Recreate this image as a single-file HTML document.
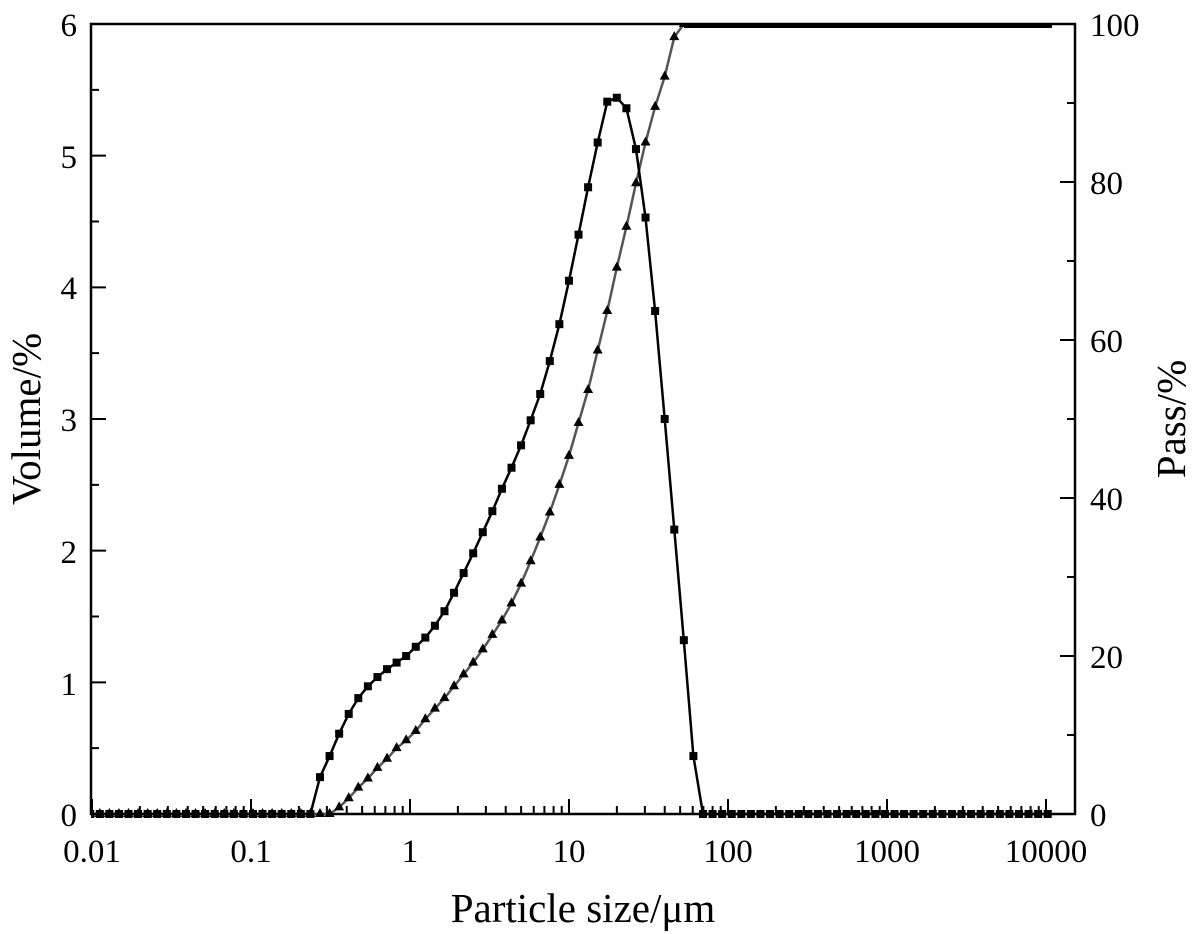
<!DOCTYPE html>
<html><head><meta charset="utf-8"><style>
body{margin:0;background:#fff}
svg{display:block;font-family:"Liberation Serif",serif}
</style></head><body>
<svg id="s" width="1200" height="934" viewBox="0 0 1200 934" xmlns="http://www.w3.org/2000/svg">
<defs><clipPath id="c"><rect x="91" y="25" width="984" height="800"/></clipPath></defs>
<g font-size="33" fill="#000">
<text x="77" y="36" text-anchor="end">6</text>
<text x="77" y="168" text-anchor="end">5</text>
<text x="77" y="299" text-anchor="end">4</text>
<text x="77" y="431" text-anchor="end">3</text>
<text x="77" y="563" text-anchor="end">2</text>
<text x="77" y="695" text-anchor="end">1</text>
<text x="77" y="826" text-anchor="end">0</text>
<text x="1090" y="36">100</text>
<text x="1090" y="194">80</text>
<text x="1090" y="352">60</text>
<text x="1090" y="510">40</text>
<text x="1090" y="668">20</text>
<text x="1090" y="826">0</text>
<text x="92" y="862" text-anchor="middle">0.01</text>
<text x="251" y="862" text-anchor="middle">0.1</text>
<text x="410" y="862" text-anchor="middle">1</text>
<text x="569" y="862" text-anchor="middle">10</text>
<text x="728" y="862" text-anchor="middle">100</text>
<text x="887" y="862" text-anchor="middle">1000</text>
<text x="1046" y="862" text-anchor="middle">10000</text>
</g>
<text x="583" y="922" font-size="41" text-anchor="middle">Particle size/μm</text>
<text transform="translate(40,419) rotate(-90)" font-size="41" text-anchor="middle">Volume/%</text>
<text transform="translate(1185,419) rotate(-90)" font-size="41" text-anchor="middle">Pass/%</text>
<g id="ax" stroke="#000" stroke-width="2.5" fill="none"></g>
<g id="data" clip-path="url(#c)"></g>
</svg>
<script>
var ns="http://www.w3.org/2000/svg";
function el(p,t,a){var e=document.createElementNS(ns,t);for(var k in a)e.setAttribute(k,a[k]);p.appendChild(e);return e;}
var ax=document.getElementById('ax'),dg=document.getElementById('data');
var L=91,R=1075,T=24,B=814;
el(ax,'rect',{x:L,y:T,width:R-L,height:B-T});
var d='';
for(var e=-2;e<=4;e++){var x=92+(e+2)*159;d+='M'+x+' '+B+'v-15 ';
 if(e<4)for(var m=2;m<10;m++){var xm=x+159*Math.log10(m);d+='M'+xm+' '+B+'v-8 ';}}
for(var i=0;i<=6;i++){var y=B-i*131.67;d+='M'+L+' '+y+'h15 ';}
for(var i=0;i<6;i++){var y=B-(i+0.5)*131.67;d+='M'+L+' '+y+'h8 ';}
for(var i=0;i<=5;i++){var y=B-i*158;d+='M'+R+' '+y+'h-15 ';}
for(var i=0;i<5;i++){var y=B-(i+0.5)*158;d+='M'+R+' '+y+'h-8 ';}
el(ax,'path',{d:d,'stroke-width':2});
var vol=[0.28,.44,.61,.76,.88,.97,1.04,1.10,1.15,1.2,1.27,1.34,1.43,1.54,1.68,1.83,1.98,2.14,2.30,2.47,2.63,2.80,2.99,3.19,3.44,3.72,4.05,4.40,4.76,5.10,5.41,5.44,5.36,5.05,4.53,3.82,3.00,2.16,1.32,0.44,0];
var pas=[0,0,0.05,0.12,0.2,0.27,0.35,0.42,0.5,0.56,0.63,0.72,0.8,0.88,0.97,1.06,1.15,1.25,1.36,1.47,1.6,1.75,1.92,2.1,2.29,2.5,2.72,2.97,3.22,3.52,3.82,4.15,4.46,4.79,5.1,5.37,5.6,5.9,6.0];
var st=9.575,x0=320;
var vp=[],pp=[];
for(var i=-24;i<=76;i++){var x=x0+i*st;
 var v=(i<0||i>=vol.length)?0:vol[i];
 var p=(i<0)?0:(i>=pas.length?6:pas[i]);
 vp.push([x,B-v*131.67]);pp.push([x,B-p*131.67]);}
function pts(a){return a.map(function(q){return q[0].toFixed(1)+','+q[1].toFixed(1)}).join(' ');}
el(dg,'polyline',{points:pts(pp),fill:'none',stroke:'#555','stroke-width':2.5,'stroke-linejoin':'round'});
el(dg,'rect',{x:684,y:24,width:368,height:4,fill:'#000'});
el(dg,'polyline',{points:pts(vp),fill:'none',stroke:'#000','stroke-width':2.5,'stroke-linejoin':'round'});
pp.forEach(function(q){if(q[0]>690)return;el(dg,'path',{d:'M'+q[0]+' '+(q[1]-6)+'l5 9h-10z',fill:'#000'});});
vp.forEach(function(q){el(dg,'rect',{x:q[0]-4,y:q[1]-4,width:8,height:8,fill:'#000'});});
</script>
</body></html>
